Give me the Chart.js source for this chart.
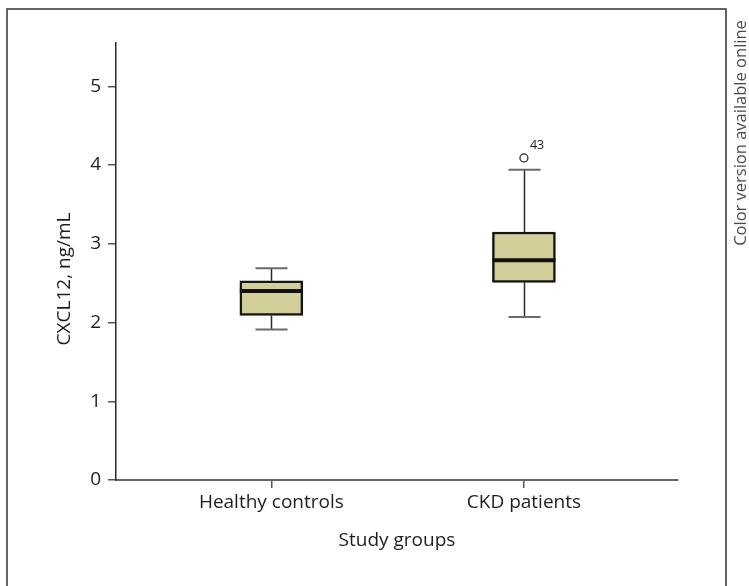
<!DOCTYPE html>
<html>
<head>
<meta charset="utf-8">
<script src="https://cdn.jsdelivr.net/npm/chart.js@4/dist/chart.umd.min.js"></script>
<style>
  html, body { margin: 0; padding: 0; background: #ffffff; }
  #wrap { width: 749px; height: 586px; }
</style>
</head>
<body>
<div id="wrap"><canvas id="chart" width="749" height="586"></canvas></div>
<script>
// Study groups and their x positions
const categories = ['Healthy controls', 'CKD patients'];
const positions = [1, 2];

// Box-plot summary per group (CXCL12, ng/mL)
const whiskerLow = [1.91, 2.07];
const quartile1 = [2.09, 2.51];
const medians = [2.40, 2.79];
const quartile3 = [2.53, 3.15];
const whiskerHigh = [2.69, 3.94];

// Outliers
const outlierPositions = [2];
const outlierValues = [4.09];
const outlierLabels = ['43'];

// Y-axis ticks
const yTickValues = [0, 1, 2, 3, 4, 5];

const FONT = '"Open Sans", "Noto Sans", sans-serif';
const TEXT = '#1e1e1e';
const BOX_FILL = '#d3cf9b';

const boxData = positions.map((p, i) => ({ x: p, y: [quartile1[i], quartile3[i]] }));
const outlierData = outlierPositions.map((p, i) => ({ x: p, y: outlierValues[i] }));

// Whiskers, caps, medians, outlier labels, titles and frame
const boxPlotExtras = {
  id: 'boxPlotExtras',
  beforeDraw(chart) {
    const ctx = chart.ctx;
    ctx.save();
    ctx.strokeStyle = '#333333';
    ctx.lineWidth = 1.5;
    ctx.beginPath();
    ctx.moveTo(7, 600);
    ctx.lineTo(7, 9);
    ctx.lineTo(726, 9);
    ctx.lineTo(726, 600);
    ctx.stroke();
    ctx.restore();
  },
  beforeDatasetsDraw(chart) {
    const ctx = chart.ctx;
    const xs = chart.scales.x, ys = chart.scales.y;
    ctx.save();
    positions.forEach((p, i) => {
      const cx = Math.round(xs.getPixelForValue(p)) + 0.5;
      const yLo = ys.getPixelForValue(whiskerLow[i]);
      const yQ1 = ys.getPixelForValue(quartile1[i]);
      const yQ3 = ys.getPixelForValue(quartile3[i]);
      const yHi = ys.getPixelForValue(whiskerHigh[i]);
      ctx.strokeStyle = '#2a2a2a';
      ctx.lineWidth = 1.5;
      ctx.beginPath();
      ctx.moveTo(cx, yQ1); ctx.lineTo(cx, yLo);
      ctx.moveTo(cx, yQ3); ctx.lineTo(cx, yHi);
      ctx.stroke();
      ctx.strokeStyle = '#6a6a6a';
      ctx.lineWidth = 2;
      ctx.beginPath();
      ctx.moveTo(cx - 16, yLo); ctx.lineTo(cx + 16, yLo);
      ctx.moveTo(cx - 16, yHi); ctx.lineTo(cx + 16, yHi);
      ctx.stroke();
    });
    ctx.restore();
  },
  afterDatasetsDraw(chart) {
    const ctx = chart.ctx;
    const xs = chart.scales.x, ys = chart.scales.y;
    ctx.save();
    const barMeta = chart.getDatasetMeta(0);
    positions.forEach((p, i) => {
      const bar = barMeta.data[i];
      const half = bar.width / 2;
      const ym = ys.getPixelForValue(medians[i]);
      ctx.strokeStyle = '#111111';
      ctx.lineWidth = 4;
      ctx.beginPath();
      ctx.moveTo(bar.x - half, ym);
      ctx.lineTo(bar.x + half, ym);
      ctx.stroke();
    });
    ctx.fillStyle = TEXT;
    ctx.font = '12.5px ' + FONT;
    ctx.textAlign = 'left';
    ctx.textBaseline = 'middle';
    outlierPositions.forEach((p, i) => {
      const px = xs.getPixelForValue(p);
      const py = ys.getPixelForValue(outlierValues[i]);
      ctx.fillText(outlierLabels[i], px + 6, py - 13);
    });
    ctx.restore();
  },
  afterDraw(chart) {
    const ctx = chart.ctx;
    ctx.save();
    ctx.fillStyle = TEXT;
    ctx.textAlign = 'center';
    ctx.textBaseline = 'middle';
    ctx.font = '19px ' + FONT;
    // x-axis title
    ctx.fillText('Study groups', 397, 541);
    // y-axis title
    ctx.save();
    ctx.translate(65, 279);
    ctx.rotate(-Math.PI / 2);
    ctx.fillText('CXCL12, ng/mL', 0, 0);
    ctx.restore();
    // side note
    ctx.save();
    ctx.fillStyle = '#4a4a4a';
    ctx.font = '16.5px ' + FONT;
    ctx.translate(741, 133);
    ctx.rotate(-Math.PI / 2);
    ctx.fillText('Color version available online', 0, 0);
    ctx.restore();
    ctx.restore();
  }
};

new Chart(document.getElementById('chart'), {
  type: 'bar',
  data: {
    datasets: [
      {
        type: 'bar',
        data: boxData,
        backgroundColor: BOX_FILL,
        borderColor: '#161616',
        borderWidth: 2.5,
        borderSkipped: false,
        barThickness: 63
      },
      {
        type: 'scatter',
        data: outlierData,
        pointStyle: 'circle',
        pointRadius: 4,
        pointBackgroundColor: '#ffffff',
        pointBorderColor: '#222222',
        pointBorderWidth: 1.2
      }
    ]
  },
  options: {
    responsive: false,
    animation: false,
    layout: { padding: { left: 0, top: 43, right: 71, bottom: 0 } },
    plugins: { legend: { display: false }, tooltip: { enabled: false }, title: { display: false } },
    scales: {
      x: {
        type: 'linear',
        min: 0.385,
        max: 2.61,
        offset: false,
        afterBuildTicks: (axis) => { axis.ticks = positions.map(v => ({ value: v })); },
        afterFit: (scale) => { scale.height = 106; },
        ticks: {
          callback: (v) => categories[positions.indexOf(v)],
          color: TEXT,
          font: { family: FONT, size: 19 },
          padding: 3,
          maxRotation: 0,
          autoSkip: false
        },
        grid: { offset: false, drawOnChartArea: false, drawTicks: true, tickLength: 8, color: '#555555', lineWidth: 1.5 },
        border: { display: true, color: '#666666', width: 2 }
      },
      y: {
        type: 'linear',
        min: 0,
        max: 5.55,
        afterBuildTicks: (axis) => { axis.ticks = yTickValues.map(v => ({ value: v })); },
        afterFit: (scale) => { scale.width = 116; },
        ticks: {
          color: TEXT,
          font: { family: FONT, size: 19 },
          padding: 7
        },
        grid: { drawOnChartArea: false, drawTicks: true, tickLength: 8, color: '#555555', lineWidth: 1.5 },
        border: { display: true, color: '#2a2a2a', width: 1.5 }
      }
    }
  },
  plugins: [boxPlotExtras]
});
</script>
</body>
</html>
